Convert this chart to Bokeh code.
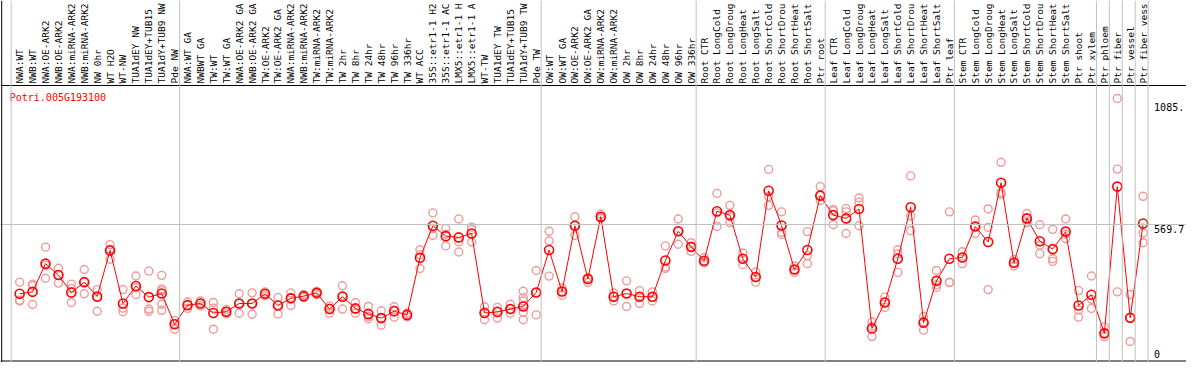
from bokeh.plotting import figure
from bokeh.models import Range1d, Span, ColumnDataSource
from bokeh.core.properties import value
from bokeh.embed import file_html
from bokeh.resources import INLINE

gene = "Potri.005G193100"

categories = [
    "NWA:WT", "NWB:WT", "NWA:OE-ARK2", "NWB:OE-ARK2", "NWA:miRNA-ARK2", "NWB:miRNA-ARK2",
    "NW 0hr", "WT H2O", "WT-NW", "TUA1dEY NW", "TUA1dEY+TUB15", "TUA1dY+TUB9 NW", "Pde NW",
    "NWA:WT GA", "NWBWT GA", "TW:WT", "TW:WT GA", "NWA:OE-ARK2 GA", "NWB:OE-ARK2 GA",
    "TW:OE-ARK2", "TW:OE-ARK2 GA", "NWA:miRNA-ARK2", "NWB:miRNA-ARK2", "TW:miRNA-ARK2",
    "TW:miRNA-ARK2", "TW 2hr", "TW 8hr", "TW 24hr", "TW 48hr", "TW 96hr", "TW 336hr",
    "WT ACC", "35S::etr1-1 H2", "35S::etr1-1 AC", "LMX5::etr1-1 H", "LMX5::etr1-1 A",
    "WT-TW", "TUA1dEY TW", "TUA1dEY+TUB15", "TUA1dY+TUB9 TW", "Pde TW",
    "OW:WT", "OW:WT GA", "OW:OE-ARK2", "OW:OE-ARK2 GA", "OW:miRNA-ARK2", "OW:miRNA-ARK2",
    "OW 2hr", "OW 8hr", "OW 24hr", "OW 48hr", "OW 96hr", "OW 336hr",
    "Root CTR", "Root LongCold", "Root LongDroug", "Root LongHeat", "Root LongSalt",
    "Root ShortCold", "Root ShortDrou", "Root ShortHeat", "Root ShortSalt", "Ptr root",
    "Leaf CTR", "Leaf LongCold", "Leaf LongDroug", "Leaf LongHeat", "Leaf LongSalt",
    "Leaf ShortCold", "Leaf ShortDrou", "Leaf ShortHeat", "Leaf ShortSalt", "Ptr leaf",
    "Stem CTR", "Stem LongCold", "Stem LongDroug", "Stem LongHeat", "Stem LongSalt",
    "Stem ShortCold", "Stem ShortDrou", "Stem ShortHeat", "Stem ShortSalt", "Ptr shoot",
    "Ptr xylem", "Ptr phloem", "Ptr fiber", "Ptr vessel", "Ptr fiber vess",
]

group_sizes = [13, 28, 12, 10, 10, 11, 1, 1, 1, 1]

means = [
    286.3, 294.2, 409.5, 363.0, 291.4, 334.0, 275.5, 463.6, 246.5, 318.1,
    272.8, 287.5, 161.4, 239.8, 246.5, 207.9, 213.1, 246.5, 246.5, 286.3,
    238.6, 267.6, 276.7, 290.2, 223.8, 274.3, 226.6, 204.0, 186.9, 214.7,
    200.0, 433.4, 564.6, 522.0, 516.9, 532.8, 207.9, 211.9, 223.8, 234.6,
    291.4, 465.2, 295.4, 564.6, 347.1, 601.6, 274.3, 287.5, 274.3, 274.3,
    422.6, 541.9, 478.3, 421.5, 624.2, 608.3, 429.4, 355.1, 707.7, 565.8,
    385.7, 465.2, 687.8, 608.3, 594.8, 633.4, 144.3, 250.5, 429.4, 640.1,
    168.2, 339.2, 429.4, 434.6, 561.8, 498.2, 740.7, 413.5, 594.8, 501.0,
    469.2, 540.7, 238.6, 282.3, 124.4, 724.8, 188.1, 573.7,
]

replicates = [
    [334.0, 259.6, 256.8], [326.0, 319.3, 242.5], [477.1, 402.8, 349.9], [390.8, 363.0, 330.0],
    [326.0, 307.3, 250.5], [385.7, 335.2, 286.3], [303.4, 270.4, 214.7], [487.5, 469.2, 427.8],
    [303.4, 227.8, 213.1], [359.0, 311.3, 282.3], [378.9, 223.8, 214.7],
    [361.8, 306.2, 299.4, 243.7, 218.7], [177.3, 164.2, 141.5],
    [252.9, 239.8, 226.6], [256.8, 246.5, 237.0], [250.5, 227.8, 141.5], [222.7, 213.1, 204.0],
    [286.3, 246.5, 206.8], [290.2, 246.5, 202.8], [294.2, 286.3, 278.3], [270.4, 239.8, 204.0],
    [290.2, 271.6, 238.6], [283.5, 276.7, 270.4], [295.4, 290.2, 283.5], [237.0, 227.8, 206.8],
    [319.3, 279.5, 223.8], [250.5, 222.7, 206.8], [234.6, 193.2, 184.1], [217.1, 186.9, 157.4],
    [233.0, 219.9, 190.8], [207.9, 200.0, 192.0], [466.4, 446.5, 389.6], [617.5, 553.9, 524.8],
    [552.7, 530.0, 482.3], [592.4, 499.4, 457.2], [559.0, 548.7, 498.2], [233.0, 211.9, 180.1],
    [230.6, 215.9, 186.9], [243.7, 223.8, 206.8],
    [296.6, 270.4, 256.8, 237.0, 210.7, 180.1], [381.7, 291.4, 200.0],
    [541.9, 502.2, 358.6], [310.1, 295.4, 280.7], [601.6, 565.8, 524.8], [352.3, 347.1, 332.4],
    [612.3, 598.8, 593.6], [290.2, 275.5, 256.8], [339.2, 287.5, 234.6], [299.4, 275.5, 246.5],
    [294.2, 271.6, 256.8], [482.3, 396.0, 389.6], [592.4, 541.9, 489.0], [495.4, 478.3, 459.6],
    [434.6, 415.9, 412.7], [697.0, 617.5, 561.8], [648.1, 601.6, 577.7], [453.3, 430.6, 405.6],
    [376.1, 355.1, 334.0], [795.2, 683.9, 648.1], [621.5, 538.0, 528.8], [400.0, 385.7, 373.7],
    [540.7, 442.6, 409.5], [724.8, 689.0, 668.0],
    [630.6, 625.4, 568.6], [634.6, 621.5, 532.8], [678.3, 661.2, 564.6], [171.0, 152.3, 111.3],
    [272.8, 251.7, 230.6], [466.4, 449.3, 373.7], [768.6, 604.4, 544.7], [193.2, 172.2, 137.6],
    [381.7, 323.2, 312.5], [621.5, 334.0, 332.0],
    [458.4, 434.6, 409.5], [588.4, 561.8, 532.8], [633.4, 557.9, 303.4], [824.2, 700.9, 693.0],
    [426.6, 414.7, 400.0], [614.7, 594.8, 577.7], [568.6, 485.1, 450.5], [549.9, 429.4, 418.7],
    [592.4, 530.0, 511.3], [299.4, 219.9, 190.8], [359.0, 263.6, 226.6],
    [151.1, 124.4, 111.3], [1085.4, 796.4, 294.2], [283.5, 188.1, 91.4], [685.1, 535.2, 495.4],
]

tick_values = [1085.4, 569.7, 0]
tick_labels = ["1085.", "569.7", "0"]

# ---------------------------------------------------------------- layout
W, H = 1186, 362
HEADER = 85                      # px of the label band on top
n = len(categories)
x = list(range(n))

X0, X1 = -1.485, 90.36
Y0 = 5.2
v_per_px = 4.091
Y1 = Y0 + H * v_per_px

p = figure(width=W, height=H, x_range=Range1d(X0, X1), y_range=Range1d(Y0, Y1),
           min_border=0, toolbar_location=None, output_backend="svg")
p.axis.visible = False
p.grid.visible = False
p.outline_line_color = None
p.background_fill_color = "white"

FONT = value("DejaVu Sans Mono")
GRID = "#c0c0c0"

def ypx(px):
    """data y of a pixel row measured from the canvas top"""
    return Y1 - px * v_per_px

header_y = ypx(HEADER)

# horizontal rules
p.add_layout(Span(location=header_y, dimension="width", line_color="black", line_width=1))
p.add_layout(Span(location=tick_values[1], dimension="width", line_color=GRID, line_width=1))
p.add_layout(Span(location=ypx(H - 1.5), dimension="width", line_color="black", line_width=1))

# vertical rules: left border, start line and group boundaries
p.add_layout(Span(location=X0 + 1.2 / 12.91, dimension="height", line_color="black", line_width=1))
p.add_layout(Span(location=-0.66, dimension="height", line_color=GRID, line_width=1))
end = -1
for g in group_sizes:
    end += g
    p.add_layout(Span(location=end + 0.385, dimension="height", line_color=GRID, line_width=1))

# replicate points
rx, ry = [], []
for i, reps in enumerate(replicates):
    rx += [i] * len(reps)
    ry += reps
p.scatter(rx, ry, marker="circle", size=8, fill_color=None,
          line_color="#ef9a9a", line_width=1.4)

# mean line and markers
src = ColumnDataSource(dict(x=x, y=means))
p.line("x", "y", source=src, line_color="#ff0000", line_width=1)
p.scatter("x", "y", source=src, marker="circle", size=9, fill_color=None,
          line_color="#ff0000", line_width=1.6)

# category labels (vertical, reading upward)
p.text(x=x, y=[ypx(HEADER - 2)] * n, text=categories, angle=1.5708,
       text_font=FONT, text_font_size="9.5px", text_color="black",
       text_align="left", text_baseline="middle")

# gene name
p.text(x=[-0.77], y=[ypx(96.5)], text=[gene], text_font=FONT,
       text_font_size="10px", text_color="#ff0000", text_align="left",
       text_baseline="middle")

# right-hand value labels
p.text(x=[87.85] * len(tick_values), y=tick_values, text=tick_labels,
       y_offset=[9, 4, -10], text_font=FONT, text_font_size="10px",
       text_color="black", text_align="left", text_baseline="middle")

open("out.html", "w").write(file_html(p, INLINE))
